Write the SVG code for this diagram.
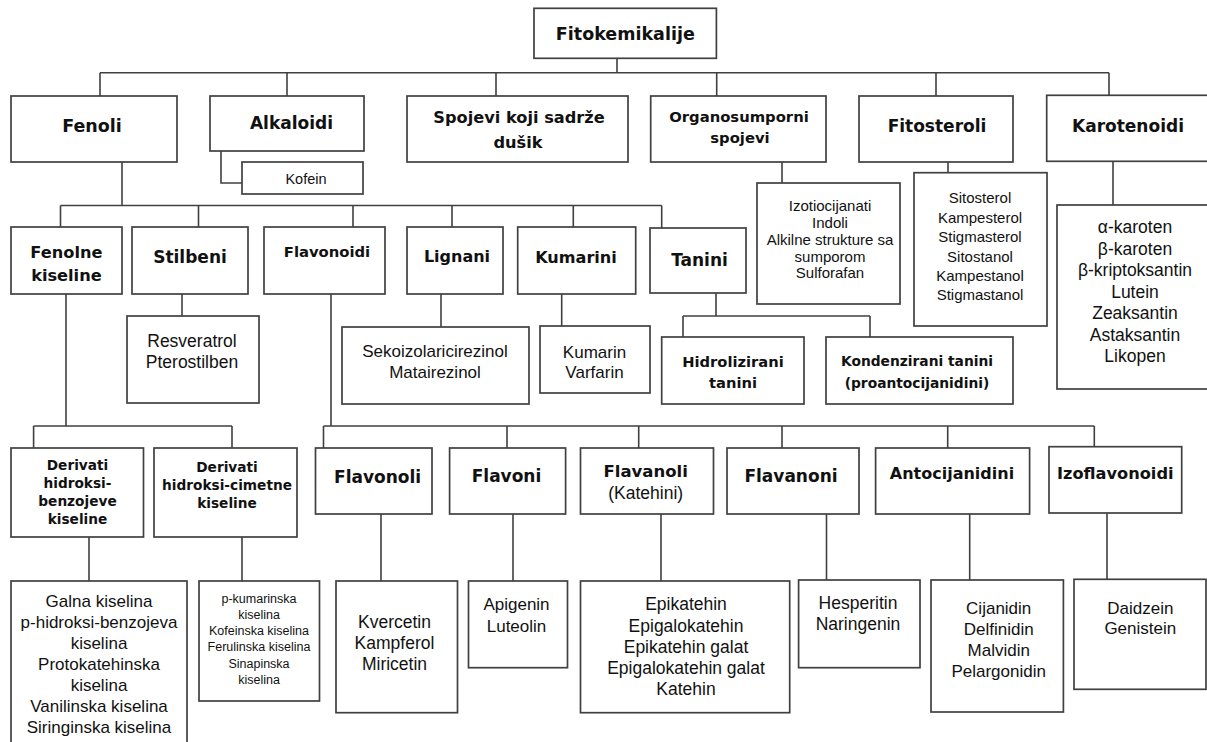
<svg xmlns="http://www.w3.org/2000/svg" width="1207" height="742" viewBox="0 0 1207 742">
<style>
.bx{fill:#fff;stroke:#404040;stroke-width:1.7}
.cn{fill:none;stroke:#404040;stroke-width:1.6}
text{text-anchor:middle;fill:#111}
.b{font-family:"DejaVu Sans",Verdana,sans-serif;font-weight:bold}
.r{font-family:"Liberation Sans",Arial,sans-serif}
</style>
<rect width="1207" height="742" fill="#fff"/>
<g id="connectors" class="cn">
<path d="M617,58.3V72.7M100,72.7H1109M100,72.7V96M287,72.7V96M496,72.7V96M716.7,72.7V96M936,72.7V96M1109,72.7V95.3"/>
<path d="M221,151V183H242"/>
<path d="M782,162V183M948,162V172.7M1113,161.3V205"/>
<path d="M122,162V205.5M60.5,205.5H661.7M60.5,205.5V227M198.5,205.5V227M353,205.5V227M452,205.5V227M573.3,205.5V227M661.7,205.5V228"/>
<path d="M182,294V316M441,294V327M561.7,294V326"/>
<path d="M716,293V316M683,316H870M683,316V337M870,316V337"/>
<path d="M66,294V426M33.6,426H232M33.6,426V448M232,426V448M89,537V581M242,537V581"/>
<path d="M331,294V426M323.5,426H1094.3M323.5,426V448M507,426V448M638.7,426V448M782,426V448M947.7,426V448M1094.3,426V446.7"/>
<path d="M381,514V581M513,514V581M661,514V581M826.5,514V580M969.7,514V580M1107,513V579.3"/>
</g>
<g id="fitokemikalije"><rect class="bx" x="534" y="8.3" width="182.4" height="50"/><text class="b" x="625.3" y="39.6" font-size="17.5">Fitokemikalije</text></g>
<g id="fenoli"><rect class="bx" x="11" y="96" width="166" height="66"/><text class="b" x="92" y="132.3" font-size="17.5">Fenoli</text></g>
<g id="alkaloidi"><rect class="bx" x="210" y="96" width="154" height="55"/><text class="b" x="291.5" y="129.1" font-size="17">Alkaloidi</text></g>
<g id="kofein"><rect class="bx" x="242" y="162" width="121" height="32"/><text class="r" x="306" y="184" font-size="14.5">Kofein</text></g>
<g id="spojevi-dusik"><rect class="bx" x="407" y="96" width="221" height="66"/><text class="b" x="519" y="122.8" font-size="16.2">Spojevi koji sadrže</text><text class="b" x="518" y="147.5" font-size="16.2">dušik</text></g>
<g id="organosumporni"><rect class="bx" x="650.7" y="96" width="175.3" height="66"/><text class="b" x="739" y="122" font-size="14.8">Organosumporni</text><text class="b" x="740" y="143" font-size="14.8">spojevi</text></g>
<g id="fitosteroli"><rect class="bx" x="859" y="96" width="154" height="66"/><text class="b" x="937" y="132.1" font-size="17">Fitosteroli</text></g>
<g id="karotenoidi"><rect class="bx" x="1046.7" y="95.3" width="165" height="66"/><text class="b" x="1128" y="131.5" font-size="17">Karotenoidi</text></g>
<g id="organosumporni-list"><rect class="bx" x="757" y="183" width="143" height="121"/>
<text class="r" font-size="15"><tspan x="830" y="211.4">Izotiocijanati</tspan><tspan x="830" y="228.2">Indoli</tspan><tspan x="830" y="244.9">Alkilne strukture sa</tspan><tspan x="830" y="261.7">sumporom</tspan><tspan x="830" y="278.4">Sulforafan</tspan></text></g>
<g id="fitosteroli-list"><rect class="bx" x="914" y="172.7" width="133" height="153.3"/>
<text class="r" font-size="15"><tspan x="980" y="203.4">Sitosterol</tspan><tspan x="980" y="222.8">Kampesterol</tspan><tspan x="980" y="242.2">Stigmasterol</tspan><tspan x="980" y="261.6">Sitostanol</tspan><tspan x="980" y="281">Kampestanol</tspan><tspan x="980" y="300.4">Stigmastanol</tspan></text></g>
<g id="karotenoidi-list"><rect class="bx" x="1057" y="205" width="160" height="184"/>
<text class="r" font-size="17.5"><tspan x="1135" y="233">α-karoten</tspan><tspan x="1135" y="254.5">β-karoten</tspan><tspan x="1135" y="276">β-kriptoksantin</tspan><tspan x="1135" y="297.5">Lutein</tspan><tspan x="1135" y="319">Zeaksantin</tspan><tspan x="1135" y="340.5">Astaksantin</tspan><tspan x="1135" y="362">Likopen</tspan></text></g>
<g id="fenolne-kiseline"><rect class="bx" x="11" y="227" width="111" height="67"/><text class="b" x="66.4" y="257.8" font-size="16.2">Fenolne</text><text class="b" x="66.4" y="280.8" font-size="16.2">kiseline</text></g>
<g id="stilbeni"><rect class="bx" x="132" y="227" width="116" height="67"/><text class="b" x="190" y="263" font-size="17">Stilbeni</text></g>
<g id="flavonoidi"><rect class="bx" x="264" y="227" width="121" height="67"/><text class="b" x="327" y="257.3" font-size="14.8">Flavonoidi</text></g>
<g id="lignani"><rect class="bx" x="407" y="227" width="96" height="67"/><text class="b" x="457" y="261.5" font-size="16">Lignani</text></g>
<g id="kumarini"><rect class="bx" x="517.7" y="227" width="118" height="67"/><text class="b" x="576" y="262.5" font-size="16.1">Kumarini</text></g>
<g id="tanini"><rect class="bx" x="650" y="228" width="96" height="65"/><text class="b" x="699.5" y="266" font-size="17">Tanini</text></g>
<g id="stilbeni-list"><rect class="bx" x="127" y="316" width="132" height="87"/><text class="r" font-size="17.5"><tspan x="192" y="347">Resveratrol</tspan><tspan x="192" y="368.3">Pterostilben</tspan></text></g>
<g id="lignani-list"><rect class="bx" x="342" y="327" width="187" height="77"/><text class="r" font-size="17"><tspan x="435" y="357">Sekoizolaricirezinol</tspan><tspan x="435" y="378">Matairezinol</tspan></text></g>
<g id="kumarini-list"><rect class="bx" x="540" y="326" width="110" height="67"/><text class="r" font-size="17"><tspan x="594.5" y="357.8">Kumarin</tspan><tspan x="594.5" y="377.8">Varfarin</tspan></text></g>
<g id="hidrolizirani"><rect class="bx" x="661.7" y="337" width="142.3" height="67"/><text class="b" x="733" y="367.3" font-size="14.7">Hidrolizirani</text><text class="b" x="733" y="388.3" font-size="14.7">tanini</text></g>
<g id="kondenzirani"><rect class="bx" x="826" y="337" width="187" height="67"/><text class="b" x="917" y="366" font-size="13.8">Kondenzirani tanini</text><text class="b" x="917" y="388" font-size="13.8">(proantocijanidini)</text></g>
<g id="derivati-benzojeve"><rect class="bx" x="11" y="448" width="132.5" height="89"/><text class="b" font-size="13.7"><tspan x="77.5" y="470">Derivati</tspan><tspan x="77.5" y="488">hidroksi-</tspan><tspan x="77.5" y="506">benzojeve</tspan><tspan x="77.5" y="524">kiseline</tspan></text></g>
<g id="derivati-cimetne"><rect class="bx" x="154" y="448" width="143" height="89"/><text class="b" font-size="13.7"><tspan x="227" y="471.6">Derivati</tspan><tspan x="227" y="489.6">hidroksi-cimetne</tspan><tspan x="227" y="508">kiseline</tspan></text></g>
<g id="benzojeve-list"><rect class="bx" x="11" y="581" width="176" height="170"/><text class="r" font-size="17"><tspan x="99" y="606.8">Galna kiselina</tspan><tspan x="99" y="627.8">p-hidroksi-benzojeva</tspan><tspan x="99" y="648.8">kiselina</tspan><tspan x="99" y="669.8">Protokatehinska</tspan><tspan x="99" y="690.8">kiselina</tspan><tspan x="99" y="711.8">Vanilinska kiselina</tspan><tspan x="99" y="732.8">Siringinska kiselina</tspan></text></g>
<g id="cimetne-list"><rect class="bx" x="199" y="581" width="120.5" height="120"/><text class="r" font-size="12.5"><tspan x="259" y="602.5">p-kumarinska</tspan><tspan x="259" y="618.8">kiselina</tspan><tspan x="259" y="635.1">Kofeinska kiselina</tspan><tspan x="259" y="651.4">Ferulinska kiselina</tspan><tspan x="259" y="667.7">Sinapinska</tspan><tspan x="259" y="684">kiselina</tspan></text></g>
<g id="flavonoli"><rect class="bx" x="315.5" y="448" width="116.5" height="66"/><text class="b" x="377.6" y="483" font-size="17">Flavonoli</text></g>
<g id="flavoni"><rect class="bx" x="449.6" y="448" width="116" height="66"/><text class="b" x="506.5" y="482" font-size="17">Flavoni</text></g>
<g id="flavanoli"><rect class="bx" x="580.5" y="448" width="133" height="66"/><text class="b" x="645.7" y="477" font-size="16.5">Flavanoli</text><text class="r" x="645.7" y="499.3" font-size="17.5">(Katehini)</text></g>
<g id="flavanoni"><rect class="bx" x="727" y="448" width="132" height="66"/><text class="b" x="791" y="482" font-size="17">Flavanoni</text></g>
<g id="antocijanidini"><rect class="bx" x="875.6" y="448" width="154" height="66"/><text class="b" x="952" y="478.8" font-size="16">Antocijanidini</text></g>
<g id="izoflavonoidi"><rect class="bx" x="1049" y="446.7" width="132.7" height="66.3"/><text class="b" x="1115.3" y="479" font-size="16.2">Izoflavonoidi</text></g>
<g id="flavonoli-list"><rect class="bx" x="336" y="581" width="121.5" height="131.7"/><text class="r" font-size="17.5"><tspan x="394.5" y="628">Kvercetin</tspan><tspan x="394.5" y="649">Kampferol</tspan><tspan x="394.5" y="669.5">Miricetin</tspan></text></g>
<g id="flavoni-list"><rect class="bx" x="468.5" y="581" width="99" height="86.7"/><text class="r" font-size="17"><tspan x="516.5" y="610">Apigenin</tspan><tspan x="516.5" y="631.5">Luteolin</tspan></text></g>
<g id="flavanoli-list"><rect class="bx" x="580.5" y="581" width="209.2" height="131.7"/><text class="r" font-size="17.5"><tspan x="686" y="610.3">Epikatehin</tspan><tspan x="686" y="631.5">Epigalokatehin</tspan><tspan x="686" y="652.7">Epikatehin galat</tspan><tspan x="686" y="673.9">Epigalokatehin galat</tspan><tspan x="686" y="695.1">Katehin</tspan></text></g>
<g id="flavanoni-list"><rect class="bx" x="798.6" y="580" width="121.4" height="87.7"/><text class="r" font-size="17.5"><tspan x="858" y="609">Hesperitin</tspan><tspan x="858" y="630.3">Naringenin</tspan></text></g>
<g id="antocijanidini-list"><rect class="bx" x="931" y="580" width="132.4" height="132"/><text class="r" font-size="17"><tspan x="998.7" y="613.8">Cijanidin</tspan><tspan x="998.7" y="634.8">Delfinidin</tspan><tspan x="998.7" y="655.8">Malvidin</tspan><tspan x="998.7" y="676.8">Pelargonidin</tspan></text></g>
<g id="izoflavonoidi-list"><rect class="bx" x="1074" y="579.3" width="132" height="110"/><text class="r" font-size="17"><tspan x="1140.3" y="614.4">Daidzein</tspan><tspan x="1140.3" y="634.4">Genistein</tspan></text></g>
</svg>
